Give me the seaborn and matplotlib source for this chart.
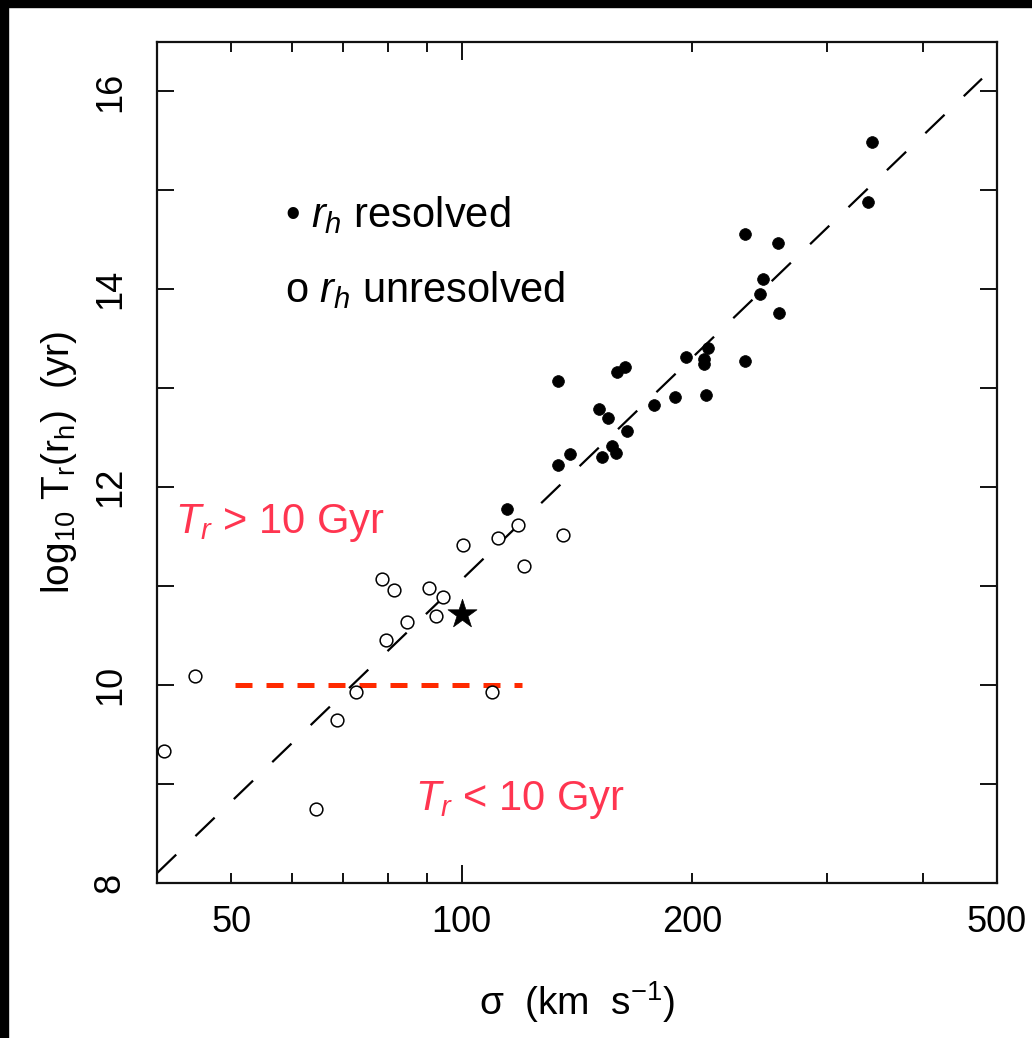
import numpy as np
import pandas as pd
import seaborn as sns
import matplotlib
matplotlib.use("Agg")
import matplotlib.pyplot as plt
from matplotlib.patches import Rectangle
from matplotlib.ticker import FixedLocator, FuncFormatter, NullFormatter

# --- data ---------------------------------------------------------------
# galaxies whose half-light radius r_h is resolved
sigma_resolved = [343.6, 339.5, 234.4, 258.8, 247.4, 245.2, 259.5, 209.7, 207.1,
                  207.1, 196.2, 234.4, 163.3, 159.5, 133.5, 208.4, 189.8, 178.3,
                  151.0, 155.2, 164.3, 157.0, 158.9, 152.4, 138.4, 133.5, 114.5]
logT_resolved = [15.49, 14.88, 14.56, 14.47, 14.10, 13.95, 13.76, 13.41, 13.30,
                 13.25, 13.32, 13.28, 13.22, 13.16, 13.07, 12.93, 12.91, 12.83,
                 12.79, 12.70, 12.57, 12.42, 12.35, 12.31, 12.34, 12.22, 11.78]

# galaxies whose r_h is unresolved
sigma_unresolved = [118.5, 111.6, 100.5, 135.5, 120.5, 78.7, 81.6, 90.5, 94.5,
                    92.5, 84.8, 79.6, 44.8, 40.8, 72.7, 68.7, 64.6, 109.4]
logT_unresolved = [11.62, 11.49, 11.42, 11.52, 11.20, 11.07, 10.96, 10.98, 10.89,
                   10.70, 10.64, 10.46, 10.09, 9.33, 9.93, 9.65, 8.75, 9.93]

# the Milky Way
sigma_star = [100.0]
logT_star = [10.72]

# power-law fit
fit_sigma = [40.0, 478.0]
fit_logT = [8.10, 16.13]

# Hubble-time threshold (10 Gyr)
hubble_sigma = [50.5, 120.0]
hubble_logT = [10.0, 10.0]

x_major = [100]
x_minor = [50, 60, 70, 80, 90, 200, 300, 400, 500]
x_labelled = [50, 100, 200, 500]
y_ticks = [8, 9, 10, 11, 12, 13, 14, 15, 16]
y_labelled = [8, 10, 12, 14, 16]

# --- style ----------------------------------------------------------------
sns.set_style("ticks")
plt.rcParams["font.family"] = ["Liberation Sans", "DejaVu Sans"]
plt.rcParams["mathtext.fontset"] = "custom"
plt.rcParams["mathtext.rm"] = "Liberation Sans"
plt.rcParams["mathtext.it"] = "Liberation Sans:italic"
plt.rcParams["mathtext.default"] = "it"
plt.rcParams["text.color"] = "black"
plt.rcParams["axes.labelcolor"] = "black"
plt.rcParams["xtick.color"] = "black"
plt.rcParams["ytick.color"] = "black"

RED_TEXT = "#ff3550"
RED_LINE = "#ff2a00"

fig = plt.figure(figsize=(10.32, 10.38), dpi=100)
ax = fig.add_axes([157 / 1032, 1 - 883 / 1038, 840 / 1032, 841 / 1038])

df_res = pd.DataFrame({"sigma": sigma_resolved, "logT": logT_resolved})
df_unres = pd.DataFrame({"sigma": sigma_unresolved, "logT": logT_unresolved})
df_star = pd.DataFrame({"sigma": sigma_star, "logT": logT_star})
df_fit = pd.DataFrame({"sigma": fit_sigma, "logT": fit_logT})
df_hub = pd.DataFrame({"sigma": hubble_sigma, "logT": hubble_logT})

sns.lineplot(data=df_fit, x="sigma", y="logT", ax=ax, color="black",
             linewidth=1.6, sort=False)
ax.lines[-1].set_dashes([12, 12])
sns.lineplot(data=df_hub, x="sigma", y="logT", ax=ax, color=RED_LINE,
             linewidth=3.6, sort=False)
ax.lines[-1].set_dashes([3.4, 2.8])

sns.scatterplot(data=df_res, x="sigma", y="logT", ax=ax, color="black",
                s=72, edgecolor="black", linewidth=0.5, zorder=3)
sns.scatterplot(data=df_unres, x="sigma", y="logT", ax=ax, facecolor="white",
                s=84, edgecolor="black", linewidth=1.1, zorder=3)
sns.scatterplot(data=df_star, x="sigma", y="logT", ax=ax, marker="*",
                color="black", s=480, edgecolor="black", linewidth=0.5, zorder=4)

ax.set_xscale("log")
ax.set_xlim(40, 500)
ax.set_ylim(8, 16.5)

ax.xaxis.set_major_locator(FixedLocator(x_major))
ax.xaxis.set_minor_locator(FixedLocator(x_minor))
ax.xaxis.set_major_formatter(FuncFormatter(lambda v, p: f"{v:g}" if round(v) in x_labelled else ""))
ax.xaxis.set_minor_formatter(FuncFormatter(lambda v, p: f"{v:g}" if round(v) in x_labelled else ""))
ax.yaxis.set_major_locator(FixedLocator(y_ticks))
ax.yaxis.set_major_formatter(FuncFormatter(lambda v, p: f"{v:g}" if round(v) in y_labelled else ""))
ax.yaxis.set_minor_formatter(NullFormatter())

ax.tick_params(axis="both", which="both", direction="in", top=True, right=True,
               width=1.4, color="#111111", labelcolor="black", labelsize=26)
ax.tick_params(axis="x", which="major", length=13, pad=16)
ax.tick_params(axis="x", which="minor", length=7.2, pad=16)
ax.tick_params(axis="y", which="major", length=12.2, pad=21)
ax.tick_params(axis="y", which="minor", length=0)
for lab in ax.get_yticklabels():
    lab.set_rotation(90)
    lab.set_va("center")

for sp in ax.spines.values():
    sp.set_linewidth(1.6)
    sp.set_color("#111111")

ax.set_xlabel(r"σ  (km  s$^{-1}$)", fontsize=28, labelpad=28)
ax.set_ylabel(r"log$_{10}$ T$_{\rm r}$(r$_{\rm h}$)  (yr)", fontsize=28, labelpad=10)

# annotations
ax.text(0.021, 0.428, r"$T_r$ > 10 Gyr", transform=ax.transAxes, fontsize=30,
        color=RED_TEXT, va="center", ha="left")
ax.text(0.307, 0.099, r"$T_r$ < 10 Gyr", transform=ax.transAxes, fontsize=30,
        color=RED_TEXT, va="center", ha="left")
ax.text(0.152, 0.794, r"• $r_h$ resolved", transform=ax.transAxes, fontsize=30,
        color="black", va="center", ha="left")
ax.text(0.152, 0.705, r"o $r_h$ unresolved", transform=ax.transAxes, fontsize=30,
        color="black", va="center", ha="left")

# dark frame strips along the top and left edges
fig.patches.append(Rectangle((0, 0), 8 / 1032, 1, transform=fig.transFigure,
                             color="black", zorder=-1))
fig.patches.append(Rectangle((0, 1 - 7 / 1038), 1, 7 / 1038, transform=fig.transFigure,
                             color="black", zorder=-1))

fig.savefig("out.png", dpi=100, facecolor="white")
